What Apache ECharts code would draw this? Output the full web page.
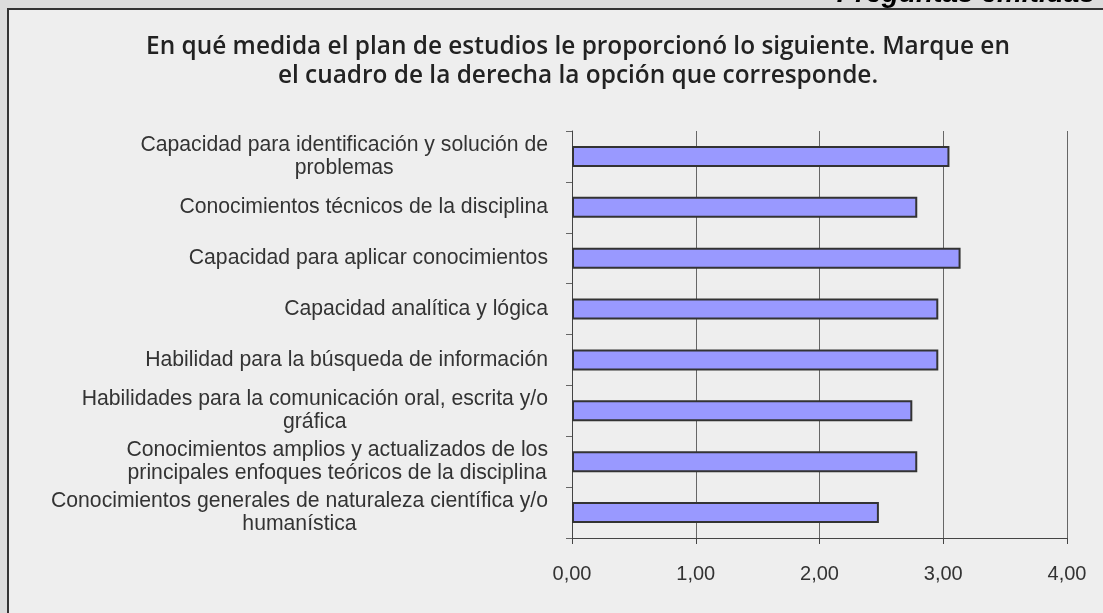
<!DOCTYPE html>
<html><head><meta charset="utf-8">
<script src="https://cdn.jsdelivr.net/npm/echarts@6/dist/echarts.min.js"></script>
<style>html,body{margin:0;padding:0;background:#dcdcdc;}#c{width:1103px;height:613px;}</style>
</head><body><div id="c"></div>
<script>
const titleText = 'En qué medida el plan de estudios le proporcionó lo siguiente. Marque en\nel cuadro de la derecha la opción que corresponde.';
const headerText = 'Preguntas emitidas';
const categories = [
  'Capacidad para identificación y solución de\nproblemas',
  'Conocimientos técnicos de la disciplina',
  'Capacidad para aplicar conocimientos',
  'Capacidad analítica y lógica',
  'Habilidad para la búsqueda de información',
  'Habilidades para la comunicación oral, escrita y/o\ngráfica',
  'Conocimientos amplios y actualizados de los\nprincipales enfoques teóricos de la disciplina',
  'Conocimientos generales de naturaleza científica y/o\nhumanística'
];
const values = [3.05, 2.79, 3.14, 2.96, 2.96, 2.75, 2.79, 2.48];

const chart = echarts.init(document.getElementById('c'), null, {renderer: 'canvas'});
chart.setOption({
  backgroundColor: '#dcdcdc',
  animation: false,
  graphic: [
    {type: 'text', right: 8, top: -20, z: 0, style: {text: headerText, font: 'italic bold 28px "Liberation Sans"', fill: '#000'}},
    {type: 'rect', shape: {x: 8, y: 9, width: 1200, height: 700}, style: {fill: '#eeeeee', stroke: '#333', lineWidth: 2}, z: -1}
  ],
  title: {
    text: titleText, padding: 0,
    left: 578, top: 33, textAlign: 'center',
    textStyle: {fontFamily: 'Open Sans', fontSize: 24.4, fontWeight: 600, color: '#222', lineHeight: 29}
  },
  grid: {left: 572, right: 36, top: 131, bottom: 75, containLabel: false},
  xAxis: {
    type: 'value', min: 0, max: 4, interval: 1,
    axisLine: {show: true, lineStyle: {color: '#444', width: 1}},
    axisTick: {show: true, length: 6, lineStyle: {color: '#444'}},
    splitLine: {show: true, lineStyle: {color: '#666', width: 1}},
    axisLabel: {
      margin: 26, fontFamily: 'Liberation Sans', fontSize: 20, color: '#333',
      formatter: v => v.toFixed(2).replace('.', ',')
    }
  },
  yAxis: {
    type: 'category', data: categories, inverse: true,
    axisLine: {show: true, lineStyle: {color: '#444', width: 1}},
    axisTick: {show: true, length: 6, lineStyle: {color: '#666'}},
    axisLabel: {
      margin: 24, fontFamily: 'Liberation Sans', fontSize: 21.2, color: '#333', lineHeight: 23,
      formatter: v => v.split('\n').map(l => '{c|' + l + '}').join('\n'),
      rich: {c: {align: 'center', fontFamily: 'Liberation Sans', fontSize: 21.2, color: '#333', lineHeight: 23}}
    }
  },
  series: [{
    type: 'bar', data: values, barWidth: 21,
    itemStyle: {color: '#9999ff', borderColor: '#333', borderWidth: 2}
  }]
});
</script></body></html>
